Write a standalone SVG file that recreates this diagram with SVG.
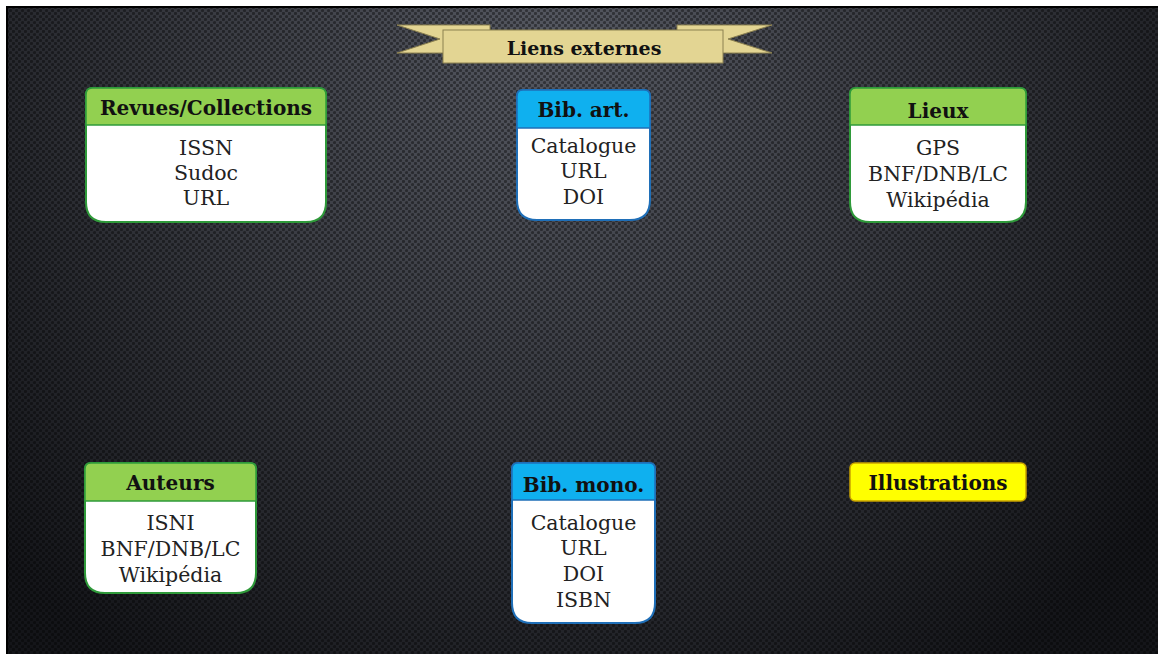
<svg xmlns="http://www.w3.org/2000/svg" width="1158" height="654" viewBox="0 0 1158 654">
  <defs>
    <radialGradient id="bg" cx="560" cy="40" r="760" gradientUnits="userSpaceOnUse">
      <stop offset="0" stop-color="#555861"/>
      <stop offset="0.45" stop-color="#3a3c43"/>
      <stop offset="1" stop-color="#141519"/>
    </radialGradient>
    <pattern id="dots" width="6" height="6" patternUnits="userSpaceOnUse">
      <circle cx="1.5" cy="1.5" r="1.6" fill="#000" fill-opacity="0.4"/>
      <circle cx="4.5" cy="4.5" r="1.6" fill="#000" fill-opacity="0.4"/>
    </pattern>
    <style>
      .hdr { font-family: "DejaVu Serif", serif; font-weight: bold; font-size: 20px; fill: #111; text-anchor: middle; }
      .body { font-family: "DejaVu Serif", serif; font-size: 20.5px; fill: #222; text-anchor: middle; }
      .card { fill: #ffffff; stroke-width: 2; }
      .green .card { stroke: #2f9a3a; }
      .green .head { fill: #92d050; stroke: #2f9a3a; stroke-width: 1.5; }
      .blue .card { stroke: #1f6fb8; }
      .blue .head { fill: #0fb0ef; stroke: #1f6fb8; stroke-width: 1.5; }
      .ribbon { fill: #e3d593; stroke: #8c8150; stroke-width: 1; }
    </style>
  </defs>

  <rect x="0" y="0" width="1158" height="654" fill="#ffffff"/>
  <rect x="7" y="7" width="1151" height="647" fill="url(#bg)"/>
  <rect x="7" y="7" width="1151" height="647" fill="url(#dots)"/>
  <path d="M7 654 V7 H1158" fill="none" stroke="#000" stroke-width="2"/>

  <g id="title">
    <polygon class="ribbon" points="397,25 490,25 490,53 397,53 440,39"/>
    <polygon class="ribbon" points="677,25 772,25 728,39 772,53 677,53"/>
    <rect class="ribbon" x="443" y="30" width="280" height="33"/>
    <text x="584" y="55" class="hdr" style="font-size:19px">Liens externes</text>
  </g>

  <g id="revues" class="green">
    <path class="card" d="M92 88 H319 Q326 88 326 95 V202 Q326 222 306 222 H106 Q86 222 86 202 V95 Q86 88 92 88 Z"/>
    <path class="head" d="M92 88 H319 Q326 88 326 95 V125 H86 V95 Q86 88 92 88 Z"/>
    <text x="206" y="115" class="hdr">Revues/Collections</text>
    <text x="206" y="155" class="body">ISSN</text>
    <text x="206" y="180" class="body">Sudoc</text>
    <text x="206" y="205" class="body">URL</text>
  </g>

  <g id="bibart" class="blue">
    <path class="card" d="M523 90 H644 Q650 90 650 96 V200 Q650 220 630 220 H537 Q517 220 517 200 V96 Q517 90 523 90 Z"/>
    <path class="head" d="M523 90 H644 Q650 90 650 96 V128 H517 V96 Q517 90 523 90 Z"/>
    <text x="583.5" y="117" class="hdr">Bib. art.</text>
    <text x="583.5" y="153" class="body">Catalogue</text>
    <text x="583.5" y="178" class="body">URL</text>
    <text x="583.5" y="204" class="body">DOI</text>
  </g>

  <g id="lieux" class="green">
    <path class="card" d="M856 88 H1020 Q1026 88 1026 94 V202 Q1026 222 1006 222 H870 Q850 222 850 202 V94 Q850 88 856 88 Z"/>
    <path class="head" d="M856 88 H1020 Q1026 88 1026 94 V125 H850 V94 Q850 88 856 88 Z"/>
    <text x="938" y="118" class="hdr">Lieux</text>
    <text x="938" y="155" class="body">GPS</text>
    <text x="938" y="181" class="body">BNF/DNB/LC</text>
    <text x="938" y="207" class="body">Wikipédia</text>
  </g>

  <g id="auteurs" class="green">
    <path class="card" d="M91 463 H250 Q256 463 256 469 V573 Q256 593 236 593 H105 Q85 593 85 573 V469 Q85 463 91 463 Z"/>
    <path class="head" d="M91 463 H250 Q256 463 256 469 V501 H85 V469 Q85 463 91 463 Z"/>
    <text x="170.5" y="490" class="hdr">Auteurs</text>
    <text x="170.5" y="530" class="body">ISNI</text>
    <text x="170.5" y="556" class="body">BNF/DNB/LC</text>
    <text x="170.5" y="582" class="body">Wikipédia</text>
  </g>

  <g id="bibmono" class="blue">
    <path class="card" d="M518 463 H649 Q655 463 655 469 V603 Q655 623 635 623 H532 Q512 623 512 603 V469 Q512 463 518 463 Z"/>
    <path class="head" d="M518 463 H649 Q655 463 655 469 V500 H512 V469 Q512 463 518 463 Z"/>
    <text x="583.5" y="492" class="hdr">Bib. mono.</text>
    <text x="583.5" y="530" class="body">Catalogue</text>
    <text x="583.5" y="555" class="body">URL</text>
    <text x="583.5" y="581" class="body">DOI</text>
    <text x="583.5" y="607" class="body">ISBN</text>
  </g>

  <g id="illustrations">
    <rect x="850" y="463" width="176" height="38" rx="5" fill="#ffff00" stroke="#c9a200" stroke-width="1.5"/>
    <text x="938" y="490" class="hdr">Illustrations</text>
  </g>

  <g id="connectors"></g>
</svg>
